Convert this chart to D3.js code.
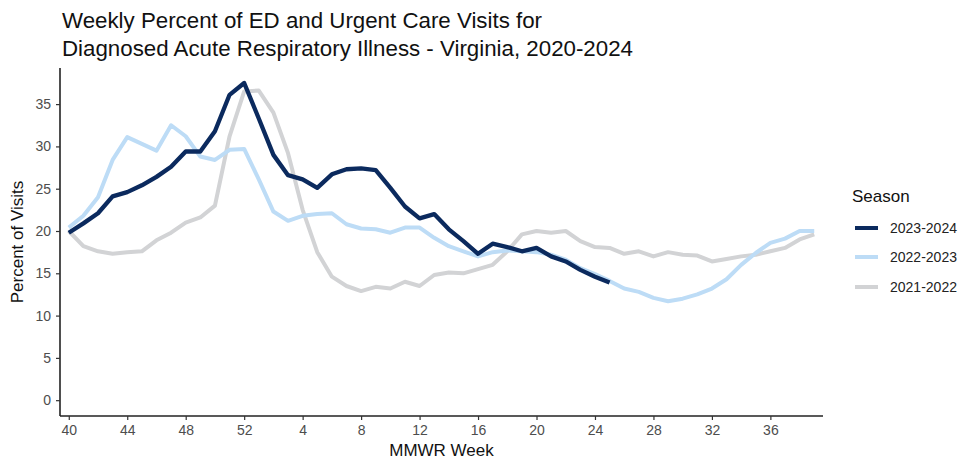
<!DOCTYPE html>
<html><head><meta charset="utf-8">
<script src="https://cdn.jsdelivr.net/npm/d3@7"></script>
<style>body{margin:0;background:#fff;} svg{display:block;font-family:"Liberation Sans",Arial,sans-serif;}</style>
</head><body>
<svg id="chart" width="966" height="459"></svg>
<script>
const weeks = [40,41,42,43,44,45,46,47,48,49,50,51,52,1,2,3,4,5,6,7,8,9,10,11,12,13,14,15,16,17,18,19,20,21,22,23,24,25,26,27,28,29,30,31,32,33,34,35,36,37,38,39];
const tickWeeks = [40,44,48,52,4,8,12,16,20,24,28,32,36];
const yTicks = [0,5,10,15,20,25,30,35];
const seasons = ["2023-2024","2022-2023","2021-2022"];
const colors = ["#0b2a5e","#bddcf6","#d2d3d5"];
const s2023 = [19.8,20.9,22.1,24.1,24.6,25.4,26.4,27.6,29.4,29.4,31.8,36.1,37.5,33.3,29.0,26.6,26.1,25.1,26.7,27.3,27.4,27.2,25.1,22.9,21.5,22.0,20.2,18.8,17.3,18.5,18.1,17.6,18.0,17.0,16.4,15.4,14.6,13.9];
const s2022 = [20.4,21.8,24.0,28.4,31.1,30.3,29.5,32.5,31.2,28.8,28.4,29.6,29.7,26.1,22.3,21.2,21.8,22.0,22.1,20.8,20.3,20.2,19.8,20.4,20.4,19.2,18.2,17.6,17.0,17.5,17.7,17.6,17.5,17.2,16.6,15.6,14.9,14.1,13.2,12.8,12.1,11.7,12.0,12.5,13.2,14.3,16.0,17.4,18.6,19.1,20.0,20.0];
const s2021 = [20.0,18.2,17.6,17.3,17.5,17.6,18.9,19.8,21.0,21.6,23.0,31.2,36.5,36.6,34.0,29.2,22.5,17.5,14.6,13.5,12.9,13.4,13.2,14.0,13.5,14.8,15.1,15.0,15.5,16.0,17.6,19.6,20.0,19.8,20.0,18.8,18.1,18.0,17.3,17.6,17.0,17.5,17.2,17.1,16.4,16.7,17.0,17.2,17.6,18.0,19.0,19.6];
const seriesData = [s2023, s2022, s2021];

const svg = d3.select("#chart");
const L = 60, R = 823, T = 68, B = 416;

const x = d3.scalePoint().domain(d3.range(weeks.length)).range([L, R]).padding(0.6);
const y = d3.scaleLinear().domain([-1.87, 39.27]).range([B, T]);

// title
const title = svg.append("text").attr("x", 62).attr("y", 28).attr("font-size", 22.3).attr("fill", "#111");
title.append("tspan").attr("x", 62).attr("dy", 0).text("Weekly Percent of ED and Urgent Care Visits for");
title.append("tspan").attr("x", 62).attr("dy", 28).text("Diagnosed Acute Respiratory Illness - Virginia, 2020-2024");

// lines (draw older first)
const line = d3.line().x((d, i) => x(i)).y(d => y(d)).curve(d3.curveLinear);
[2,1,0].forEach(k => {
  svg.append("path").datum(seriesData[k]).attr("d", line)
    .attr("fill", "none").attr("stroke", colors[k]).attr("stroke-width", k === 0 ? 4.3 : 4)
    .attr("stroke-linejoin", "round").attr("stroke-linecap", "butt");
});

// axes
const xAxis = d3.axisBottom(x)
  .tickValues(tickWeeks.map(w => weeks.indexOf(w)))
  .tickFormat(i => weeks[i]).tickSize(4).tickPadding(5);
const gx = svg.append("g").attr("transform", `translate(0,${B})`).call(xAxis);
gx.select(".domain").attr("d", `M${L},0H${R}`).attr("stroke", "#222").attr("stroke-width", 1.6);
gx.selectAll(".tick line").attr("stroke", "#333").attr("stroke-width", 1.2);
gx.selectAll(".tick text").attr("font-size", 14).attr("fill", "#4d4d4d").attr("font-family", "Liberation Sans, Arial, sans-serif");

const yAxis = d3.axisLeft(y).tickValues(yTicks).tickSize(4).tickPadding(5);
const gy = svg.append("g").attr("transform", `translate(${L},0)`).call(yAxis);
gy.select(".domain").attr("d", `M0,${T}V${B}`).attr("stroke", "#222").attr("stroke-width", 1.6);
gy.selectAll(".tick line").attr("stroke", "#333").attr("stroke-width", 1.2);
gy.selectAll(".tick text").attr("font-size", 14).attr("fill", "#4d4d4d").attr("font-family", "Liberation Sans, Arial, sans-serif");

// axis titles
svg.append("text").attr("transform", `translate(23,${(T + B) / 2}) rotate(-90)`)
  .attr("text-anchor", "middle").attr("font-size", 17).attr("fill", "#111").text("Percent of Visits");
svg.append("text").attr("x", (L + R) / 2).attr("y", 456)
  .attr("text-anchor", "middle").attr("font-size", 17).attr("fill", "#111").text("MMWR Week");

// legend
svg.append("text").attr("x", 852).attr("y", 202).attr("font-size", 17).attr("fill", "#111").text("Season");
const ly = [228, 257, 287];
seasons.forEach((s, k) => {
  svg.append("line").attr("x1", 855).attr("x2", 878).attr("y1", ly[k]).attr("y2", ly[k])
    .attr("stroke", colors[k]).attr("stroke-width", 4);
  svg.append("text").attr("x", 890).attr("y", ly[k]).attr("dy", "0.35em")
    .attr("font-size", 14).attr("fill", "#222").text(s);
});
</script>
</body></html>
